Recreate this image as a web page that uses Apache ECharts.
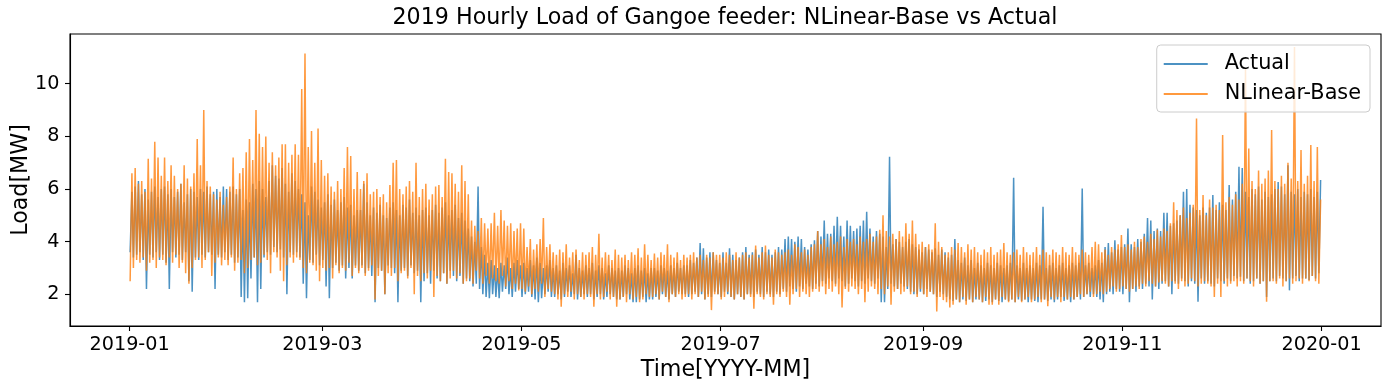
<!DOCTYPE html>
<html>
<head>
<meta charset="utf-8">
<script src="https://cdn.jsdelivr.net/npm/echarts@6/dist/echarts.min.js"></script>
<style>
html,body{margin:0;padding:0;background:#fff;}
#chart{width:1390px;height:390px;}
</style>
</head>
<body>
<div id="chart"></div>
<script>
// Day offsets from 2019-01-01 for the x ticks, and their labels
const tickDays = [0, 59, 120, 181, 243, 304, 365];
const tickLabels = ['2019-01', '2019-03', '2019-05', '2019-07', '2019-09', '2019-11', '2020-01'];
const yTicks = [2, 4, 6, 8, 10];
const seriesNames = ['Actual', 'NLinear-Base'];

// Daily high / low of the hourly load (MW), Jan 1 .. Dec 31 2019
const actualHigh = [
5.9,6.1,6.3,5.8,6.0,5.6,5.9,6.1,5.7,6.0, 6.1,5.8,6.0,5.7,5.9,6.2,5.5,5.8,6.0,5.9,
5.7,6.0,5.9,6.1,5.8,5.9,6.0,5.7,6.1,6.0, 5.9,6.1,5.8,6.0,5.2,5.6,5.5,6.2,6.0,6.3,
6.0,5.7,6.3,6.9,6.5,6.4,6.8,6.2,5.9,6.6, 6.3,6.0,5.8,5.5,5.0,6.1,5.9,5.6,5.3,5.5,
5.8,5.4,5.6,5.2,5.5,5.7,5.3,5.4,5.0,5.2, 5.2,6.2,5.5,5.0,5.3,5.1,5.4,5.0,4.9,5.3,
5.5,5.2,5.0,5.4,5.3,5.6,5.1,5.3,5.0,5.2, 5.3,5.0,5.2,5.4,5.1,5.3,5.5,5.0,5.2,5.4,
4.9,5.1,4.8,4.5,4.2,4.0,6.1,3.8,3.5,3.2, 3.3,3.1,3.0,3.2,3.1,3.4,3.0,3.2,3.3,3.1,
3.2,3.0,3.3,3.1,3.4,3.2,3.0,3.1,3.3,3.0, 3.1,2.9,3.2,3.0,3.1,2.8,3.5,3.0,2.9,3.1,
3.0,3.2,2.9,3.1,3.0,2.8,3.1,3.0,2.9,3.0, 2.9,3.1,3.0,2.8,3.0,3.1,2.9,3.0,2.8,3.0,
3.0,2.9,3.1,3.0,2.9,3.1,3.0,3.2,3.0,3.1, 3.1,3.3,3.2,3.4,3.95,3.75,3.4,3.6,3.6,3.3,
3.2,3.6,3.2,3.75,3.5,3.3,3.4,3.6,3.8,3.5, 3.6,3.7,3.5,3.8,3.6,3.7,3.5,3.6,3.8,3.7,
4.1,4.2,4.1,4.0,4.2,4.1,3.8,3.7,3.9,4.05, 4.4,4.2,4.8,4.3,4.3,4.6,4.95,4.6,4.2,4.8,
4.6,4.4,4.5,4.6,4.8,5.14,4.5,4.2,4.4,4.3, 4.2,3.8,7.23,3.9,4.1,4.0,3.8,4.0,4.1,3.9,
3.8,3.7,3.6,3.8,3.7,3.6,3.75,3.5,3.7,3.6, 3.4,3.5,4.1,3.3,3.2,3.4,3.1,3.3,3.0,3.2,
3.1,3.0,3.2,3.1,3.0,3.2,3.1,3.0,3.1,3.2, 6.43,3.1,3.0,3.2,3.0,3.1,3.0,3.2,3.1,5.33,
3.0,3.1,3.2,3.0,3.1,3.2,3.0,3.1,3.2,3.1, 3.2,6.02,3.1,3.2,3.0,3.1,3.3,3.2,3.8,3.95,
3.6,4.05,3.7,3.8,3.9,4.5,3.9,3.8,4.1,4.0, 4.3,4.9,4.8,4.4,4.5,4.4,5.1,5.1,4.6,4.7,
4.8,5.0,5.9,6.0,5.4,5.3,5.2,5.0,5.3,5.1, 5.3,5.77,5.2,5.5,5.4,5.2,6.15,5.6,5.9,6.85,
6.8,5.9,5.7,6.0,5.8,6.1,5.6,5.9,5.7,5.8, 6.0,6.27,6.1,5.8,6.9,5.9,5.8,6.0,5.7,5.9,
5.8,6.0,5.7,5.9,6.34
];
const actualLow = [
3.6,3.4,3.5,3.6,3.3,2.2,3.5,3.4,3.6,3.3, 3.5,3.2,2.2,3.6,3.4,3.5,3.3,3.6,2.5,2.1,
3.4,3.3,3.5,3.4,3.6,3.5,2.2,3.5,3.4,3.6, 3.3,3.5,3.2,3.4,1.9,1.7,1.85,2.6,3.4,1.7,
2.2,3.4,3.6,3.5,3.8,3.6,3.7,3.4,2.0,3.6, 3.5,3.6,3.4,2.4,1.85,3.3,3.2,3.5,3.1,3.3,
2.3,1.85,3.0,3.2,2.9,3.1,2.6,3.0,2.6,3.1, 2.9,3.1,2.8,3.0,2.7,1.7,3.0,2.9,2.0,3.1,
3.0,2.8,1.7,2.9,3.0,2.7,3.1,2.8,2.9,1.7, 2.5,2.8,2.4,2.9,2.6,2.5,2.8,2.4,2.9,2.7,
2.5,2.7,2.4,2.6,2.5,2.3,2.4,2.2,2.0,1.9, 1.85,2.0,1.9,1.85,2.1,2.2,2.0,1.9,2.1,2.2,
1.9,2.0,2.1,1.9,1.8,1.7,1.85,2.0,2.1,1.9, 1.9,2.0,1.8,1.9,2.1,1.9,2.0,1.8,1.9,2.0,
1.9,2.0,1.8,1.9,2.0,1.8,1.9,2.0,1.9,1.8, 1.8,1.9,2.0,1.8,1.7,1.7,1.8,1.9,1.7,1.8,
1.8,1.9,1.8,2.0,1.9,1.8,2.0,1.9,2.1,2.0, 2.0,1.9,2.0,2.1,1.9,2.0,1.8,2.0,1.9,2.1,
2.0,1.9,2.1,2.0,1.9,1.8,2.0,1.9,1.8,2.0, 2.0,1.9,2.1,2.0,1.9,2.1,2.0,1.9,2.1,2.0,
2.2,2.1,2.3,2.2,2.1,2.3,2.2,2.4,2.3,2.2, 2.4,2.3,2.5,2.4,2.6,2.5,2.4,2.6,2.5,2.3,
2.4,2.6,2.5,2.3,2.5,2.4,2.6,2.5,2.4,2.6, 1.7,1.7,2.2,2.4,2.3,2.2,2.4,2.3,2.2,2.1,
2.0,2.0,2.1,2.0,2.2,2.1,2.0,1.9,2.1,2.0, 1.9,1.8,1.75,1.8,1.7,1.8,1.75,1.8,1.7,1.8,
1.8,1.7,1.75,1.8,1.7,1.8,1.75,1.7,1.8,1.75, 1.8,1.7,1.8,1.75,1.8,1.7,1.8,1.75,1.7,1.8,
1.8,1.75,1.8,1.7,1.8,1.9,1.75,1.8,1.7,1.8, 1.9,1.8,1.9,2.0,1.9,2.0,1.9,1.8,1.7,2.0,
2.1,2.0,2.2,2.1,2.0,2.2,1.7,2.2,2.1,2.3, 2.2,2.4,2.3,1.8,2.3,2.2,2.4,2.5,2.3,2.0,
2.5,2.4,2.6,2.5,2.3,2.5,2.4,1.72,2.6,2.4, 2.5,2.4,2.3,2.6,2.5,2.4,2.6,2.5,2.7,2.6,
2.67,2.5,2.6,2.4,2.5,2.6,2.4,2.5,1.9,2.5, 2.6,2.5,2.7,2.6,2.5,2.15,2.6,2.7,2.5,2.6,
2.6,2.54,2.7,2.6,2.8
];
const forecastHigh = [
6.6,6.8,6.2,6.3,5.9,7.15,6.4,7.8,7.2,6.5, 7.2,6.3,6.9,6.5,6.0,6.2,6.9,6.4,6.1,6.6,
7.9,6.9,9.0,6.3,6.1,5.8,5.6,5.9,5.4,5.7, 6.1,7.2,6.0,6.6,6.8,7.4,7.9,7.1,9.0,8.1,
7.6,8.0,7.0,7.4,6.9,7.2,7.7,7.7,7.0,7.3, 7.7,7.3,9.8,11.15,7.6,8.2,7.0,8.3,7.1,6.5,
6.6,6.1,5.9,6.3,6.0,6.8,7.6,7.25,6.0,6.65, 6.0,6.3,6.6,5.8,5.9,6.0,5.7,5.8,5.5,6.15,
7.0,7.1,6.0,5.8,6.1,6.3,5.9,7.0,5.7,6.0, 6.2,5.6,5.8,6.1,6.15,5.7,7.15,6.65,6.6,6.2,
5.9,6.9,6.3,5.8,4.8,4.6,4.4,4.9,4.7,4.5, 4.7,5.1,4.6,5.2,4.8,4.6,4.7,4.4,4.5,4.7,
4.5,3.8,4.1,3.7,3.9,4.1,4.9,3.8,3.9,3.6, 3.5,3.7,3.6,3.9,3.4,3.6,3.7,3.3,3.6,3.5,
3.6,3.8,3.5,4.3,3.4,3.6,3.5,3.3,3.7,3.5, 3.4,3.5,3.3,3.6,3.5,3.75,3.4,3.9,3.5,3.3,
3.55,3.4,3.6,3.5,3.9,3.5,3.4,3.6,3.3,3.5, 3.4,3.5,3.6,3.4,3.5,3.3,3.5,3.4,3.6,3.5,
3.5,3.4,3.6,3.5,3.3,3.6,3.4,3.5,3.6,3.4, 3.5,3.85,3.4,3.6,3.85,3.5,3.4,3.7,3.6,3.5,
3.6,3.7,3.5,3.9,3.8,3.6,3.7,3.5,3.8,3.9, 4.4,3.9,4.1,3.8,4.2,3.9,4.0,4.2,3.8,4.1,
4.0,4.1,3.9,4.2,4.0,4.1,4.3,4.0,4.2,4.45, 5.0,4.4,4.2,4.3,4.1,4.4,4.2,4.7,4.3,4.8,
4.3,3.9,4.0,3.8,3.9,3.7,4.7,4.0,3.8,3.5, 3.6,3.8,3.7,3.95,3.8,3.6,3.9,3.7,3.8,3.6,
3.5,3.7,3.6,3.8,3.5,3.6,3.7,3.95,3.6,3.5, 3.6,3.7,3.5,3.8,3.6,3.5,3.6,3.8,3.5,3.7,
3.6,3.5,3.7,3.6,3.5,3.8,3.6,3.5,3.8,3.6, 3.5,3.7,3.6,3.5,3.8,4.0,3.9,3.6,3.7,3.5,
3.8,3.7,3.9,4.25,3.8,3.9,3.7,4.0,3.8,4.1, 4.2,4.0,4.3,4.1,4.45,4.2,4.5,4.4,4.7,5.5,
5.2,5.0,5.3,4.9,5.1,5.4,8.68,5.2,5.77,5.0, 5.6,5.3,5.4,5.2,8.05,5.5,5.7,5.4,5.8,5.6,
6.2,10.6,7.54,6.3,6.0,6.7,6.2,6.4,6.7,8.24, 6.3,6.0,6.5,6.2,7.0,6.4,11.4,6.3,7.48,6.2,
6.5,7.67,6.3,7.6,5.6
];
const forecastLow = [
2.5,3.0,3.3,3.2,3.4,2.9,3.2,3.3,3.0,3.4, 3.3,3.1,3.4,3.2,3.5,3.0,3.2,2.8,2.4,3.0,
3.3,3.4,3.0,3.3,3.6,2.7,3.2,3.4,3.1,3.3, 3.1,3.4,2.9,3.2,3.3,2.8,3.0,3.3,3.4,3.1,
3.2,3.5,3.3,2.8,3.6,3.4,2.9,2.5,3.1,3.4, 3.2,3.4,3.3,3.0,2.8,3.2,3.1,2.9,2.5,3.0,
2.9,3.0,2.6,3.1,2.8,3.0,2.9,3.2,2.7,3.0, 2.8,3.0,2.7,2.9,3.1,1.8,2.7,2.9,2.0,2.8,
2.7,3.0,2.5,2.8,2.9,2.6,3.0,2.0,2.7,2.5, 2.8,2.6,2.9,1.9,2.7,2.5,2.8,2.4,2.6,2.9,
2.6,2.8,2.4,2.5,2.6,2.4,2.9,2.6,2.4,2.7, 2.4,2.6,2.5,2.4,2.7,2.3,2.5,2.2,2.4,2.15,
2.2,2.1,2.3,2.0,2.2,2.1,2.4,1.9,2.2,2.1, 2.0,1.8,1.53,2.0,1.9,2.1,1.8,2.0,1.9,1.8,
2.0,1.9,1.53,2.0,1.8,1.9,2.1,1.8,1.9,1.53, 1.8,1.9,1.7,2.0,1.8,1.9,1.7,1.8,2.0,1.9,
1.9,2.0,1.8,2.1,1.9,1.7,2.0,1.9,2.0,1.8, 1.9,2.0,1.8,2.0,1.9,2.1,1.8,1.9,1.4,2.0,
2.0,1.8,1.9,2.1,1.9,1.8,2.0,1.9,1.8,2.0, 1.9,1.45,2.0,1.9,1.8,2.0,1.9,1.6,2.0,1.9,
2.1,1.9,1.6,2.0,2.2,1.9,2.1,2.0,1.9,2.1, 2.2,2.1,2.3,2.0,2.2,2.1,2.3,2.0,1.5,2.2,
2.1,2.3,2.2,2.0,2.2,1.7,2.1,2.3,2.2,2.0, 2.2,2.0,2.3,1.6,2.1,2.2,2.0,2.1,2.3,2.0,
2.1,1.9,2.2,2.0,1.9,2.1,2.0,1.35,1.9,1.78, 1.7,1.5,1.6,1.8,1.7,1.9,1.6,1.8,1.7,1.9,
1.8,1.7,1.9,1.6,1.6,1.8,1.6,1.9,1.8,1.7, 1.8,1.7,1.9,1.7,1.8,1.9,1.7,1.8,1.9,1.7,
1.8,1.55,1.9,1.8,1.9,1.7,1.9,1.8,1.9,1.8, 1.9,2.0,1.9,2.0,2.1,1.9,2.0,2.1,2.0,2.1,
2.2,2.3,2.1,2.2,2.3,2.2,2.1,2.2,2.3,2.2, 2.4,2.3,2.5,2.4,2.3,2.45,2.5,2.4,2.3,2.5,
2.4,2.2,2.5,2.3,2.4,2.6,2.5,2.3,2.4,2.5, 2.4,2.3,1.9,2.4,1.9,2.5,2.3,2.4,2.5,2.3,
2.5,2.4,2.6,2.5,2.3,2.6,2.4,2.5,1.72,2.5, 2.5,2.4,2.6,2.3,2.5,2.6,2.4,2.5,2.6,2.4,
2.6,2.5,2.7,2.5,2.4
];

// time of day (fraction of day) at which the daily low / high is placed
const LOW_AT = 4 / 24, HIGH_AT = 17 / 24;
function buildSeries(low, high) {
  const out = [];
  for (let d = 0; d < low.length; d++) {
    out.push([d + LOW_AT, low[d]]);
    out.push([d + HIGH_AT, high[d]]);
  }
  return out;
}

const FONT = 'DejaVu Sans';
const chart = echarts.init(document.getElementById('chart'), null, { renderer: 'canvas' });
chart.setOption({
  animation: false,
  backgroundColor: '#ffffff',
  graphic: [{
    type: 'text', x: 725, y: 7, z: 10,
    style: {
      text: '2019 Hourly Load of Gangoe feeder: NLinear-Base vs Actual',
      fontFamily: FONT, fontSize: 22.2, fill: '#000',
      align: 'center', verticalAlign: 'top'
    }
  }],
  grid: {
    left: 70, right: 9, top: 34, bottom: 64,
    containLabel: false, outerBoundsMode: 'none',
    show: true, borderColor: '#000', borderWidth: 1.1, backgroundColor: 'transparent'
  },
  legend: {
    data: [
      { name: seriesNames[0], itemStyle: { color: 'rgba(31,119,180,0.8)' } },
      { name: seriesNames[1], itemStyle: { color: 'rgba(255,127,14,0.8)' } }
    ],
    orient: 'vertical', right: 20, top: 45,
    icon: 'rect', itemWidth: 44, itemHeight: 2, itemGap: 6,
    padding: [7, 9, 6, 7],
    backgroundColor: 'rgba(255,255,255,0.8)',
    borderColor: '#cccccc', borderWidth: 1, borderRadius: 4,
    textStyle: { fontFamily: FONT, fontSize: 20.8, color: '#000', lineHeight: 24, padding: [0, 0, 0, 12] }
  },
  xAxis: {
    type: 'value', min: -18.25, max: 383.2,
    name: 'Time[YYYY-MM]', nameLocation: 'middle', nameGap: 33, nameMoveOverlap: false,
    nameTextStyle: { fontFamily: FONT, fontSize: 22.2, color: '#000' },
    axisLine: { show: true, onZero: false, lineStyle: { color: '#000', width: 1.1 } },
    axisTick: { show: true, customValues: tickDays, length: 5, lineStyle: { color: '#000', width: 1.1 } },
    axisLabel: {
      customValues: tickDays, margin: 10, color: '#000', fontFamily: FONT, fontSize: 19.2,
      formatter: function (v) { const i = tickDays.indexOf(Math.round(v)); return i >= 0 ? tickLabels[i] : ''; }
    },
    splitLine: { show: false }
  },
  yAxis: {
    type: 'value', min: 0.796, max: 11.89,
    name: 'Load[MW]', nameLocation: 'middle', nameGap: 38, nameMoveOverlap: false,
    nameTextStyle: { fontFamily: FONT, fontSize: 22.2, color: '#000' },
    axisLine: { show: true, onZero: false, lineStyle: { color: '#000', width: 1.1 } },
    axisTick: { show: true, customValues: yTicks, length: 5, lineStyle: { color: '#000', width: 1.1 } },
    axisLabel: { customValues: yTicks, margin: 10.5, color: '#000', fontFamily: FONT, fontSize: 19.2 },
    splitLine: { show: false }
  },
  series: [
    {
      name: seriesNames[0], type: 'line', data: buildSeries(actualLow, actualHigh),
      showSymbol: false, symbol: 'none', sampling: null,
      lineStyle: { color: '#1f77b4', width: 1.5, opacity: 0.8 },
      itemStyle: { color: '#1f77b4' }, z: 2
    },
    {
      name: seriesNames[1], type: 'line', data: buildSeries(forecastLow, forecastHigh),
      showSymbol: false, symbol: 'none', sampling: null,
      lineStyle: { color: '#ff7f0e', width: 1.5, opacity: 0.8 },
      itemStyle: { color: '#ff7f0e' }, z: 3
    }
  ]
});
</script>
</body>
</html>
